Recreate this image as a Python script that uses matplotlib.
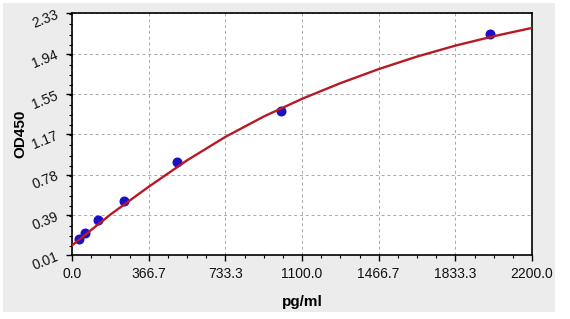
import numpy as np
import matplotlib
matplotlib.use('Agg')
import matplotlib.pyplot as plt
from matplotlib.patches import Rectangle
from matplotlib.ticker import FixedLocator, MultipleLocator

plt.rcParams['font.family'] = ['Liberation Sans', 'DejaVu Sans']

# standards (pg/ml) and OD450 readings
conc = [31.25, 62.5, 125, 250, 500, 1000, 2000]
od = [0.163, 0.221, 0.348, 0.533, 0.906, 1.39, 2.129]

# fitted curve
curve_x = [0, 183.3, 366.7, 550, 733.3, 916.7, 1100, 1283.3, 1466.7, 1650, 1833.3, 2016.7, 2200]
curve_y = [0.105, 0.40, 0.667, 0.92, 1.145, 1.34, 1.51, 1.66, 1.795, 1.915, 2.02, 2.11, 2.19]

xtick_labels = ['0.0', '366.7', '733.3', '1100.0', '1466.7', '1833.3', '2200.0']
ytick_labels = ['0.01', '0.39', '0.78', '1.17', '1.55', '1.94', '2.33']
x_min, x_max = 0, 2200
y_min, y_max = 0.01, 2.33

W, H = 570, 319
fig = plt.figure(figsize=(W / 100, H / 100), dpi=100, facecolor='white')

# grey panel behind the plot
fig.patches.append(Rectangle((3 / W, 1 - 312 / H), 552 / W, 309 / H,
                             transform=fig.transFigure, facecolor='#ececec',
                             edgecolor='none', zorder=-10))

ax_l, ax_w = 72, 460
ax = fig.add_axes([ax_l / W, 1 - 255.3 / H, ax_w / W, 242 / H])
ax.set_zorder(1)
ax.set_facecolor('white')

ax.plot(conc, od, 'o', color='#1a10c8', markersize=6.2, zorder=3)
ax.plot(curve_x, curve_y, '-', color='#b81a24', linewidth=1.7, zorder=4)

ax.set_xlim(x_min, x_max)
ax.set_ylim(y_min, y_max)

xt = np.linspace(x_min, x_max, len(xtick_labels))
yt = np.linspace(y_min, y_max, len(ytick_labels))
ax.xaxis.set_major_locator(FixedLocator(xt))
ax.yaxis.set_major_locator(FixedLocator(yt))
ax.set_xticklabels(xtick_labels, fontsize=10, color='#111111')
ax.set_yticklabels(ytick_labels, fontsize=10, rotation=22, color='#111111')
ax.xaxis.set_minor_locator(MultipleLocator((x_max - x_min) / 24))
ax.yaxis.set_minor_locator(MultipleLocator((y_max - y_min) / 24))

ax.tick_params(which='major', direction='out', length=4.5, width=1, color='black', pad=4)
ax.tick_params(which='minor', direction='out', length=2.5, width=0.8, color='black')
ax.tick_params(top=False, right=False, which='both')

ax.grid(True, which='major', linestyle=(0, (3, 3)), color='#a8a8a8', linewidth=0.7)
ax.set_axisbelow(True)

for s in ax.spines.values():
    s.set_color('black')
    s.set_linewidth(1.2)

ax.set_xlabel('pg/ml', fontsize=11, fontweight='bold')
ax.xaxis.set_label_coords(0.5, -(302 - 255.3) / 242)
ax.xaxis.label.set_va('center')
ax.set_ylabel('OD450', fontsize=11, fontweight='bold')
ax.yaxis.set_label_coords(-(ax_l - 20) / ax_w, 0.5)
ax.yaxis.label.set_va('center')

fig.savefig('out.png', dpi=100, facecolor='white')
